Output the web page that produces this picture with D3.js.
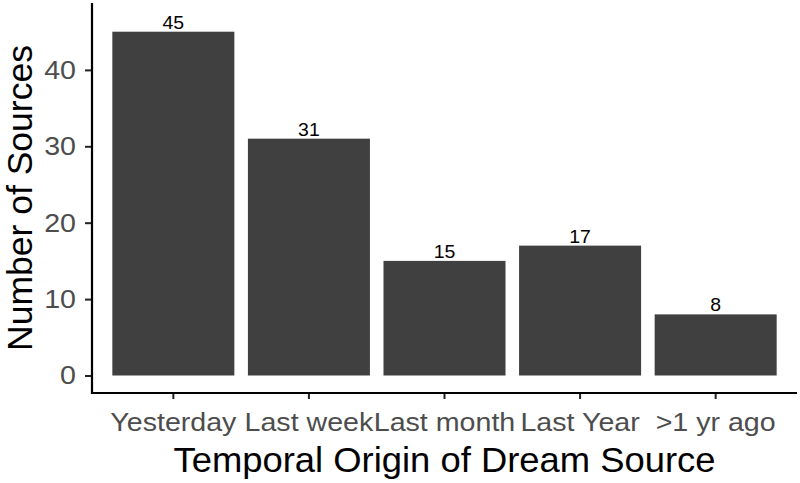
<!DOCTYPE html>
<html><head><meta charset="utf-8">
<script src="https://cdn.jsdelivr.net/npm/d3@7"></script>
<style>body{margin:0;background:#fff}svg{display:block}text{font-family:"Liberation Sans",Arial,sans-serif}</style>
</head><body>
<script>
const categories = ["Yesterday","Last week","Last month","Last Year",">1 yr ago"];
const counts = [45, 31, 15, 17, 8];
const yTicks = [0,10,20,30,40];
const xTitle = "Temporal Origin of Dream Source";
const yTitle = "Number of Sources";

const W=800,H=483;
const svg=d3.select("body").append("svg").attr("width",W).attr("height",H);
const panel={left:92,right:797,top:3,bottom:393};
const x=d3.scaleBand().domain(categories).range([panel.left,panel.right]).paddingInner(0.1).paddingOuter(0.15);
const y=d3.scaleLinear().domain([0,40]).range([375.5,69.9]);

svg.selectAll("rect.bar").data(counts).join("rect").attr("class","bar")
  .attr("x",(d,i)=>x(categories[i])).attr("width",x.bandwidth())
  .attr("y",d=>y(d)).attr("height",d=>y(0)-y(d)).attr("fill","#404040");

svg.selectAll("text.val").data(counts).join("text").attr("class","val")
  .attr("transform",(d,i)=>`translate(${x(categories[i])+x.bandwidth()/2},${y(d)-3}) scale(1.08,1)`)
  .attr("text-anchor","middle").attr("font-size",18).attr("fill","#000").text(d=>d);

// axes
const xAxis=svg.append("g").attr("transform",`translate(0,${panel.bottom})`)
  .call(d3.axisBottom(x).tickSizeOuter(0).tickSize(6).tickPadding(10));
const yAxis=svg.append("g").attr("transform",`translate(${panel.left},0)`)
  .call(d3.axisLeft(y).tickValues(yTicks).tickSizeOuter(0).tickSize(7).tickPadding(8));
const sx=1.1;
[xAxis,yAxis].forEach(g=>{
  g.select(".domain").remove();
  g.selectAll(".tick line").attr("stroke","#222").attr("stroke-width",2);
  g.selectAll(".tick text").attr("fill","#4D4D4D").attr("font-size",26).attr("font-family",null)
    .attr("transform",`scale(${sx},1)`);
});
xAxis.selectAll(".tick text").attr("dy","0.71em").attr("y",20);
yAxis.selectAll(".tick text").attr("x",-16/sx);
svg.append("line").attr("x1",panel.left).attr("x2",panel.left).attr("y1",panel.top).attr("y2",panel.bottom+1)
  .attr("stroke","#000").attr("stroke-width",2.2);
svg.append("line").attr("x1",panel.left-1).attr("x2",panel.right).attr("y1",panel.bottom).attr("y2",panel.bottom)
  .attr("stroke","#000").attr("stroke-width",2.2);

svg.append("text").attr("transform",`translate(${(panel.left+panel.right)/2},472) scale(1.04,1)`).attr("text-anchor","middle")
  .attr("font-size",35).attr("fill","#000").text(xTitle);
svg.append("text").attr("transform",`translate(32,${(panel.top+panel.bottom)/2}) rotate(-90)`)
  .attr("text-anchor","middle").attr("font-size",35.5).attr("fill","#000").text(yTitle);
</script>
</body></html>
